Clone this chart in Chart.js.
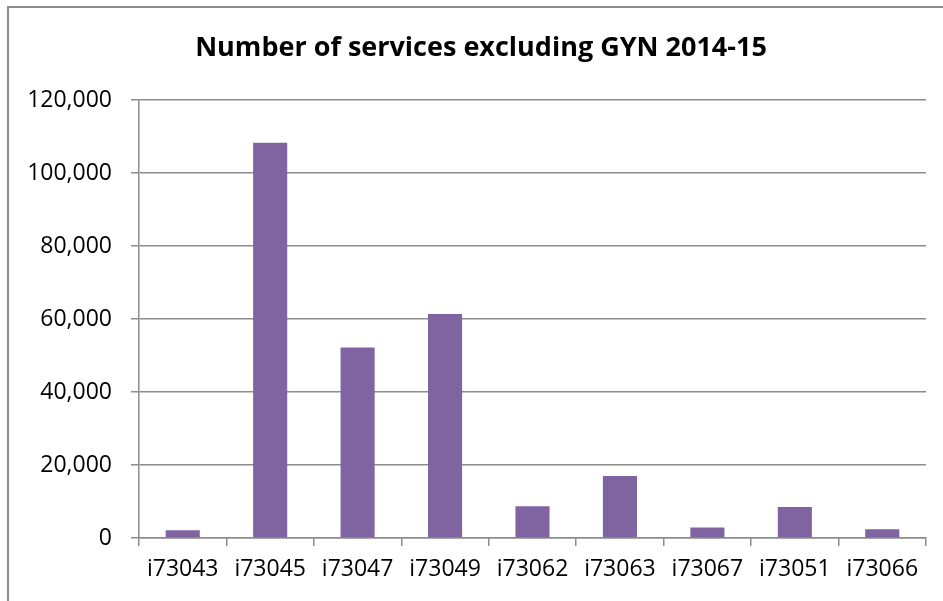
<!DOCTYPE html>
<html>
<head>
<meta charset="utf-8">
<script src="https://cdn.jsdelivr.net/npm/chart.js@4"></script>
<style>
  html, body { margin: 0; padding: 0; background: #fff; overflow: hidden; }
  #wrap { position: absolute; left: 0; top: 0; width: 943px; height: 601px; }
  #frame { position: absolute; left: 7px; top: 6px; width: 960px; height: 620px;
           border-top: 2px solid #8c8c8c; border-left: 2px solid #8c8c8c; pointer-events: none; }
</style>
</head>
<body>
<div id="wrap"><canvas id="chart" width="943" height="601"></canvas></div>
<div id="frame"></div>
<script>
// 数据
const categories = ['i73043', 'i73045', 'i73047', 'i73049', 'i73062', 'i73063', 'i73067', 'i73051', 'i73066'];
const services = [2100, 108300, 52200, 61400, 8700, 17000, 2900, 8500, 2400];
const yTicks = [0, 20000, 40000, 60000, 80000, 100000, 120000];

const BAR_COLOR = '#8064A2';
const GRID_COLOR = '#8c8c8c';
const FONT = "'Open Sans', 'Noto Sans', sans-serif";

// 标题稍微右移，中心落在 ~481
const titleShift = {
    id: 'titleShift',
    afterLayout(chart) {
        if (chart.titleBlock) { chart.titleBlock.left = 36; }
    }
};

const ctx = document.getElementById('chart').getContext('2d');

new Chart(ctx, {
    type: 'bar',
    data: {
        labels: categories,
        datasets: [{
            data: services,
            backgroundColor: BAR_COLOR,
            categoryPercentage: 1,
            barPercentage: 0.39
        }]
    },
    plugins: [titleShift],
    options: {
        responsive: false,
        animation: false,
        layout: { padding: { left: 8, right: 17, top: 0, bottom: 0 } },
        plugins: {
            legend: { display: false },
            tooltip: { enabled: false },
            title: {
                display: true,
                text: 'Number of services excluding GYN 2014-15',
                color: '#000',
                font: { family: FONT, size: 27, weight: 'bold' },
                padding: { top: 32, bottom: 35.6 }
            }
        },
        scales: {
            x: {
                grid: { offset: true, drawOnChartArea: false, drawTicks: true, tickLength: 8, color: GRID_COLOR, lineWidth: 1.5 },
                border: { color: GRID_COLOR, width: 1.5 },
                ticks: { color: '#000', font: { family: FONT, size: 23 }, padding: 10, maxRotation: 0, autoSkip: false },
                afterFit: s => { s.height = 63; }
            },
            y: {
                min: 0,
                max: 120000,
                afterBuildTicks: s => { s.ticks = yTicks.map(v => ({ value: v })); },
                grid: { color: GRID_COLOR, lineWidth: 1.5, tickLength: 8 },
                border: { color: GRID_COLOR, width: 1.5 },
                ticks: {
                    color: '#000',
                    font: { family: FONT, size: 23 },
                    padding: 19,
                    callback: v => v.toLocaleString('en-US')
                },
                afterFit: s => { s.width = 131; }
            }
        }
    }
});
</script>
</body>
</html>
